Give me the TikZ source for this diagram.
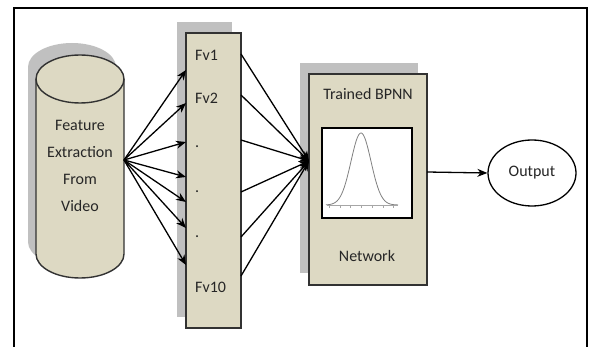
\documentclass[tikz,border=0pt]{standalone}
\usepackage{fontspec}
\setmainfont{Carlito}
\usetikzlibrary{arrows.meta,shapes.geometric}
\definecolor{tanfill}{RGB}{221,217,195}
\definecolor{shadowgray}{RGB}{192,192,192}
\definecolor{edge}{RGB}{50,50,50}
\begin{document}
\begin{tikzpicture}[x=1pt,y=-1pt,
  font=\fontsize{16}{19}\selectfont,
  arr/.style={-{Stealth[length=10pt,width=8pt]}, line width=1.3pt, black},
  boxfill/.style={fill=tanfill, draw=edge, line width=1.4pt},
  shadowfill/.style={fill=shadowgray},
  lbl/.style={inner sep=0pt, text=black!85}]
\useasboundingbox (0,0) rectangle (589,347);
% outer frame (bottom edge cropped)
\draw[line width=1.4pt] (14,352) -- (14,8) -- (587,8) -- (587,352);

% ---- cylinder (source) ----
\begin{scope}[shift={(-8,-12)}]
  \fill[shadowfill] (36,79) -- (36,254) arc[start angle=180, end angle=0, x radius=44, y radius=24]
    -- (124,79) arc[start angle=0, end angle=-180, x radius=44, y radius=24] -- cycle;
\end{scope}
\draw[boxfill] (36,79) -- (36,254) arc[start angle=180, end angle=0, x radius=44, y radius=24]
    -- (124,79) arc[start angle=0, end angle=-180, x radius=44, y radius=24] -- cycle;
\draw[draw=edge, line width=1.4pt] (36,79) arc[start angle=180, end angle=0, x radius=44, y radius=24];
\node[lbl, align=center, font=\fontsize{16}{27}\selectfont] (src) at (80,166) {Feature\\Extraction\\From\\Video};
\coordinate (srcout) at (124,160);

% ---- feature vector box ----
\fill[shadowfill] (177,22) rectangle (232,317);
\draw[boxfill] (186,33) rectangle (241,328);
\node[lbl, anchor=west] (fv1) at (195,55) {Fv1};
\node[lbl, anchor=west] (fv2) at (195,98) {Fv2};
\node[lbl, anchor=west] (d1) at (195,147) {.};
\node[lbl, anchor=west] (d2) at (195,192) {.};
\node[lbl, anchor=west] (d3) at (195,237) {.};
\node[lbl, anchor=west] (fv10) at (195,287) {Fv10};

\foreach \n/\yy in {a/70,b/103,c/142,d/177,e/202,f/228,g/265}{
  \coordinate (in\n) at (186,\yy);
  \draw[arr] (srcout) -- (in\n);
}

% ---- BPNN box ----
\fill[shadowfill] (300,63) rectangle (418,273);
\draw[boxfill] (309,74) rectangle (427,285);
\coordinate (bpin) at (309,161);
\foreach \n/\yy in {a/54,b/95,c/140,d/192,e/237,f/276}{
  \coordinate (out\n) at (241,\yy);
  \draw[arr] (out\n) -- (bpin);
}
\node[lbl] (title) at (368,94) {Trained BPNN};
\draw[fill=white, draw=black, line width=2.2pt] (322,128) rectangle (412,218);
\draw[gray, line width=0.8pt] plot[domain=-35:37, samples=90, smooth] ({361+\x},{205-72*exp(-(\x*\x)/200)});
\draw[gray!70, line width=0.6pt] (327,205) -- (398,205);
\foreach \xx in {329,340,350,361,372,383,393}{
  \draw[gray!70, line width=0.6pt] (\xx,205) -- (\xx,208);
}
\node[lbl] (net) at (367,256) {Network};

% ---- output ----
\node[ellipse, draw=black, line width=1.3pt, fill=white, minimum width=88pt, minimum height=66pt, inner sep=0pt, text=black!85] (out) at (532,173) {Output};
\coordinate (bpout) at (427,172);
\draw[arr] (bpout) -- (out.west);
\end{tikzpicture}
\end{document}
